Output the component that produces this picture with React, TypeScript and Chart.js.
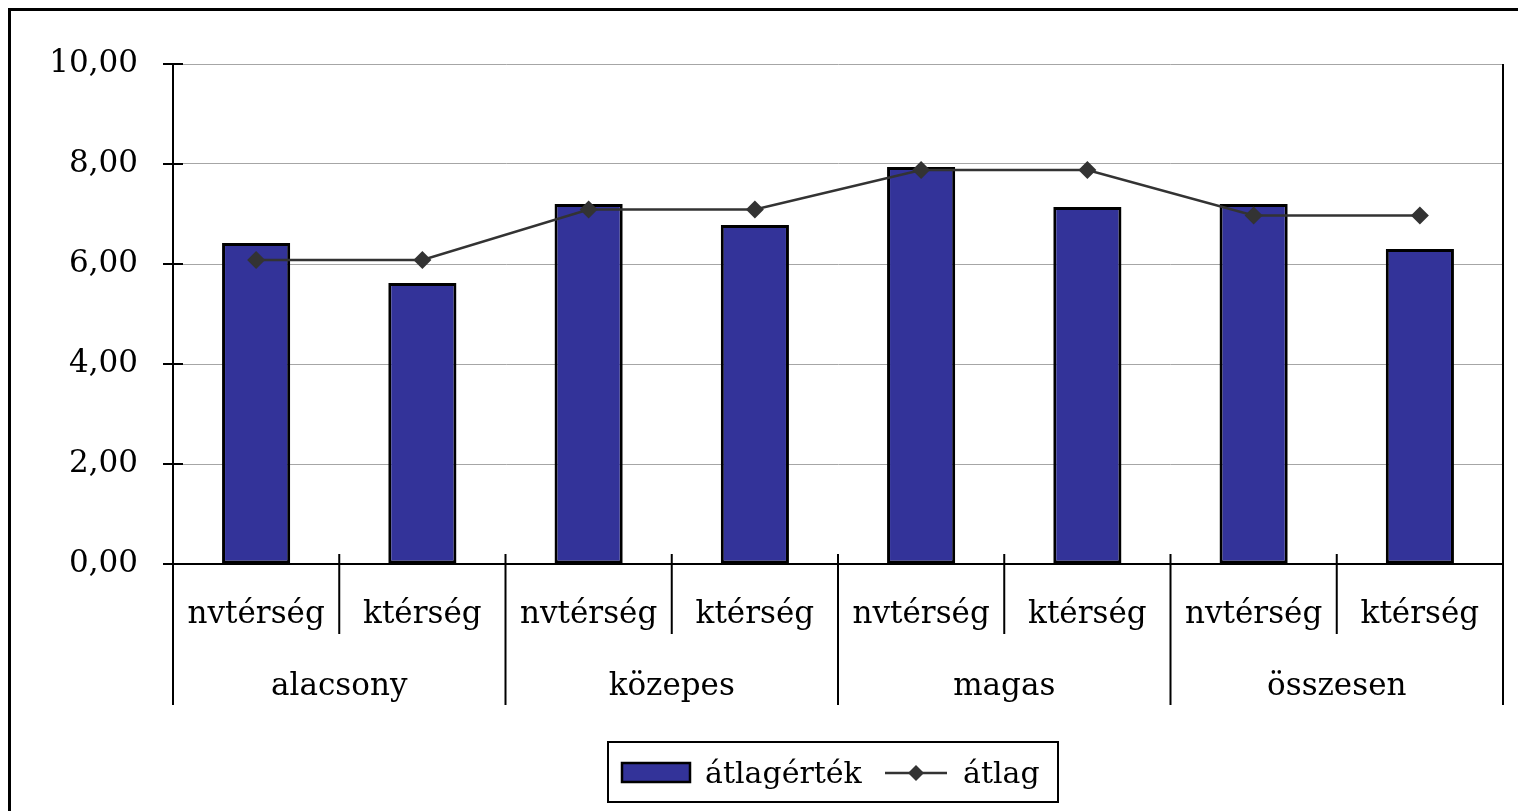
import React, { useEffect, useRef } from 'react';
import { Chart, registerables } from 'chart.js';

Chart.register(...registerables);

const subCategories = ['nvtérség', 'ktérség', 'nvtérség', 'ktérség', 'nvtérség', 'ktérség', 'nvtérség', 'ktérség'];
const groups = ['alacsony', 'közepes', 'magas', 'összesen'];
const barValues = [6.42, 5.62, 7.20, 6.78, 7.94, 7.14, 7.20, 6.30];
const lineValues = [6.08, 6.08, 7.09, 7.09, 7.88, 7.88, 6.97, 6.97];
const yTickValues = [0, 2, 4, 6, 8, 10];
const seriesNames = ['átlagérték', 'átlag'];

const FONT = '"DejaVu Serif", "Liberation Serif", serif';
const BAR_COLOR = '#333399';
const LINE_COLOR = '#333333';

const fmt = (v: number) => v.toFixed(2).replace('.', ',');

const decorPlugin = {
  id: 'decor',
  afterDraw(chart: any) {
    const ctx = chart.ctx as CanvasRenderingContext2D;
    const { left, right, top, bottom } = chart.chartArea;
    const xs = chart.scales.x;
    const ys = chart.scales.y;
    ctx.save();

    // outer frame (only left and top edges fall inside the picture)
    ctx.strokeStyle = '#000';
    ctx.lineWidth = 3;
    ctx.beginPath();
    ctx.moveTo(9.5, chart.height + 2);
    ctx.lineTo(9.5, 9.5);
    ctx.lineTo(chart.width + 2, 9.5);
    ctx.stroke();

    ctx.lineWidth = 2;
    const groupBottom = bottom + 141;
    const subBottom = bottom + 70;
    const sepTop = bottom - 10;

    // left and right vertical lines
    ctx.beginPath();
    ctx.moveTo(left, top);
    ctx.lineTo(left, groupBottom);
    ctx.moveTo(right, top);
    ctx.lineTo(right, groupBottom);
    ctx.stroke();

    // y tick marks crossing the axis
    ctx.beginPath();
    yTickValues.forEach((v) => {
      const y = ys.getPixelForValue(v);
      ctx.moveTo(left - 10, y);
      ctx.lineTo(left + 10, y);
    });
    ctx.stroke();

    // category separators
    const n = subCategories.length;
    ctx.beginPath();
    for (let i = 1; i < n; i++) {
      const x = (xs.getPixelForValue(i - 1) + xs.getPixelForValue(i)) / 2;
      const isGroup = i % 2 === 0;
      ctx.moveTo(x, sepTop);
      ctx.lineTo(x, isGroup ? groupBottom : subBottom);
    }
    ctx.stroke();

    // labels
    ctx.fillStyle = '#000';
    ctx.font = `31px ${FONT}`;
    ctx.textAlign = 'center';
    ctx.textBaseline = 'alphabetic';
    subCategories.forEach((s, i) => {
      ctx.fillText(s, xs.getPixelForValue(i), bottom + 59);
    });
    groups.forEach((g, gi) => {
      const x = (xs.getPixelForValue(gi * 2) + xs.getPixelForValue(gi * 2 + 1)) / 2;
      ctx.fillText(g, x, bottom + 131);
    });

    // legend
    ctx.font = `30px ${FONT}`;
    ctx.textAlign = 'left';
    const lx = 608, ly = 742, lw = 450, lh = 60;
    ctx.strokeStyle = '#000';
    ctx.lineWidth = 2;
    ctx.strokeRect(lx, ly, lw, lh);
    // bar swatch
    ctx.fillStyle = BAR_COLOR;
    ctx.fillRect(622, 763, 68, 19);
    ctx.lineWidth = 2.5;
    ctx.strokeRect(622, 763, 68, 19);
    ctx.fillStyle = '#000';
    ctx.fillText(seriesNames[0], 705, 783);
    // line swatch
    ctx.strokeStyle = LINE_COLOR;
    ctx.lineWidth = 2.5;
    ctx.beginPath();
    ctx.moveTo(885, 773);
    ctx.lineTo(947, 773);
    ctx.stroke();
    ctx.fillStyle = LINE_COLOR;
    ctx.beginPath();
    ctx.moveTo(916, 765);
    ctx.lineTo(924, 773);
    ctx.lineTo(916, 781);
    ctx.lineTo(908, 773);
    ctx.closePath();
    ctx.fill();
    ctx.fillStyle = '#000';
    ctx.fillText(seriesNames[1], 963, 783);

    ctx.restore();
  },
};

export default function App() {
  const ref = useRef<HTMLCanvasElement | null>(null);

  useEffect(() => {
    if (!ref.current) return;
    const chart = new Chart(ref.current, {
      type: 'bar',
      data: {
        labels: subCategories,
        datasets: [
          {
            type: 'line',
            label: seriesNames[1],
            data: lineValues,
            borderColor: LINE_COLOR,
            backgroundColor: LINE_COLOR,
            borderWidth: 2.5,
            pointStyle: 'rectRot',
            pointRadius: 9,
            pointBackgroundColor: LINE_COLOR,
            pointBorderColor: LINE_COLOR,
            pointBorderWidth: 0,
            tension: 0,
            order: 0,
          } as any,
          {
            type: 'bar',
            label: seriesNames[0],
            data: barValues,
            backgroundColor: BAR_COLOR,
            borderColor: '#000',
            borderWidth: 3,
            borderSkipped: false,
            categoryPercentage: 1,
            barPercentage: 0.41,
            order: 1,
          } as any,
        ],
      },
      options: {
        responsive: false,
        animation: false,
        layout: { padding: { left: 0, top: 64, right: 15, bottom: 0 } },
        plugins: {
          legend: { display: false },
          tooltip: { enabled: false },
          title: { display: false },
        },
        scales: {
          x: {
            grid: { display: false, drawTicks: false },
            border: { display: true, color: '#000', width: 2 },
            ticks: { display: false },
            afterFit: (scale: any) => {
              scale.height = 247;
            },
          },
          y: {
            min: 0,
            max: 10,
            afterBuildTicks: (scale: any) => {
              scale.ticks = yTickValues.map((v) => ({ value: v }));
            },
            grid: { color: '#a6a6a6', lineWidth: 1, drawTicks: true, tickLength: 10, tickColor: '#000' },
            border: { display: true, color: '#000', width: 2 },
            ticks: {
              padding: 25,
              color: '#000',
              font: { family: FONT, size: 31 },
              callback: (v: any) => fmt(Number(v)),
            },
            afterFit: (scale: any) => {
              scale.width = 173;
            },
          },
        },
      },
      plugins: [decorPlugin],
    });
    return () => chart.destroy();
  }, []);

  return (
    <div style={{ position: 'absolute', left: 0, top: 0, width: 1518, height: 811, overflow: 'hidden', background: '#fff' }}>
      <canvas ref={ref} width={1518} height={811} style={{ display: 'block' }} />
    </div>
  );
}
